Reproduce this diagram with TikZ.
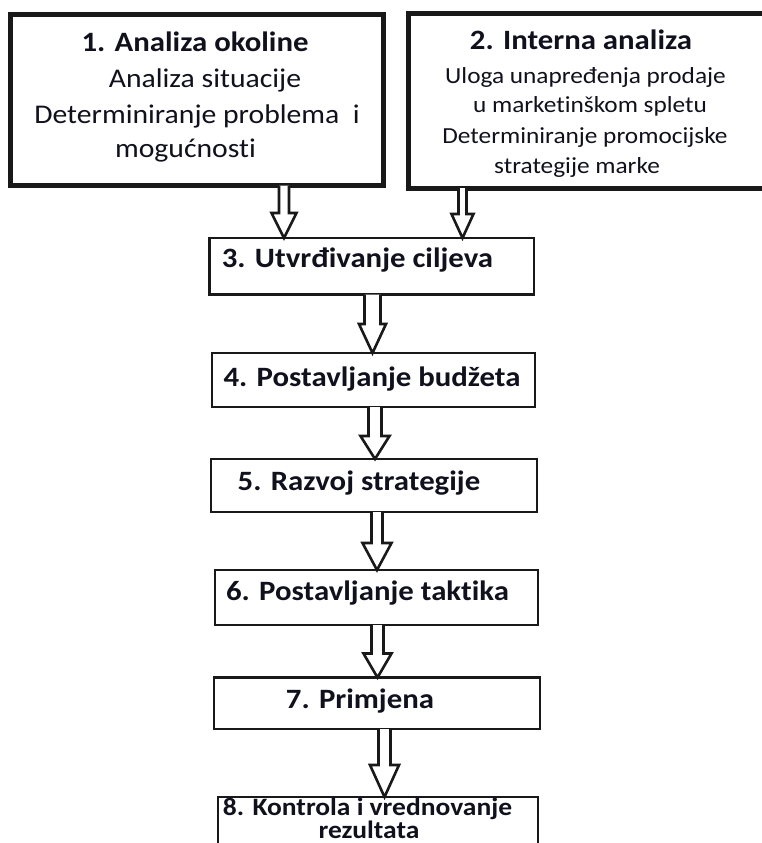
\documentclass[tikz,border=0pt]{standalone}
\usepackage{fontspec}
\setmainfont{Carlito}[FakeStretch=1.1, Ligatures=NoCommon]
\usetikzlibrary{calc}
\definecolor{ink}{RGB}{17,17,30}
\definecolor{edge}{RGB}{25,25,25}
\tikzset{
  bigbox/.style={draw=edge, line width=5pt, fill=white, outer sep=0pt, inner sep=0pt},
  stepbox/.style={draw=edge, line width=2.8pt, fill=white, outer sep=0pt, inner sep=0pt},
  txt/.style={anchor=base, inner sep=0pt, text=ink},
  headA/.style={txt, font=\bfseries\fontsize{28}{32}\selectfont},
  bodyA/.style={txt, font=\fontsize{27}{32}\selectfont},
  bodyB/.style={txt, font=\fontsize{23}{28}\selectfont},
  stepA/.style={txt, font=\bfseries\fontsize{28}{32}\selectfont},
  stepB/.style={txt, font=\bfseries\fontsize{25}{30}\selectfont},
  blockarr/.style={draw=edge, line width=2.6pt, fill=white, line join=miter}
}
% #1 source node, #2 target node, #3 centre x, #4 head length, #5 shaft half width, #6 head half width
\newcommand\blockarrow[6]{%
  \draw[blockarr] ($(#3,0 |- #1.south)+(-#5,0)$) -- ($(#3,0 |- #2.north)+(-#5,-#4)$)
    -- ($(#3,0 |- #2.north)+(-#6,-#4)$) -- (#3,0 |- #2.north)
    -- ($(#3,0 |- #2.north)+(#6,-#4)$) -- ($(#3,0 |- #2.north)+(#5,-#4)$)
    -- ($(#3,0 |- #1.south)+(#5,0)$);}
\begin{document}
\begin{tikzpicture}[x=1pt,y=-1pt]
\useasboundingbox (0,0) rectangle (762,843);
\clip (0,0) rectangle (762,843);
\fill[white] (0,0) rectangle (762,843);

% boxes
\node[bigbox, minimum width=373pt, minimum height=171pt] (b1) at (197,100) {};
\node[bigbox, minimum width=372pt, minimum height=174pt] (b2) at (594.5,101) {};
\node[stepbox, minimum width=324.5pt, minimum height=56.5pt] (b3) at (371.75,266.25) {};
\node[stepbox, minimum width=323pt, minimum height=54pt] (b4) at (373.5,380) {};
\node[stepbox, minimum width=326pt, minimum height=53pt] (b5) at (374,485.5) {};
\node[stepbox, minimum width=323pt, minimum height=55pt] (b6) at (376.5,597.5) {};
\node[stepbox, minimum width=326pt, minimum height=51.5pt] (b7) at (377,703.25) {};
\node[stepbox, minimum width=320pt, minimum height=83pt] (b8) at (378,838.5) {};

% arrows
\blockarrow{b1}{b3}{284}{25}{5}{12.5}
\blockarrow{b2}{b3}{462.5}{24}{4}{11}
\blockarrow{b3}{b4}{372.5}{29}{8}{13.5}
\blockarrow{b4}{b5}{375}{23}{6.5}{14.5}
\blockarrow{b5}{b6}{377}{27}{5.5}{14.5}
\blockarrow{b6}{b7}{377.5}{24}{6}{14}
\blockarrow{b7}{b8}{384.5}{32}{6}{14.5}

% texts box 1
\node[headA] (t1a) at (195,52) {1. Analiza okoline};
\node[bodyA] (t1b) at (205,88) {Analiza situacije};
\node[bodyA] (t1c) at (197,123) {Determiniranje problema\ \ i};
\node[bodyA] (t1d) at (185.5,157) {mogućnosti};
% texts box 2
\node[headA] (t2a) at (581,49) {2. Interna analiza};
\node[bodyB] (t2b) at (585.5,83) {Uloga unapređenja prodaje};
\node[bodyB] (t2c) at (590,112) {u marketinškom spletu};
\node[bodyB] (t2d) at (585,143) {Determiniranje promocijske};
\node[bodyB] (t2e) at (577,173) {strategije marke};
% step texts
\node[stepA] (t3) at (357.5,267) {3. Utvrđivanje ciljeva};
\node[stepA] (t4) at (372,386) {4. Postavljanje budžeta};
\node[stepA] (t5) at (359,490) {5. Razvoj strategije};
\node[stepA] (t6) at (367.5,600) {6. Postavljanje taktika};
\node[stepA] (t7) at (360,708) {7. Primjena};
\node[stepB] (t8a) at (367.5,815) {8. Kontrola i vrednovanje};
\node[stepB] (t8b) at (369,838) {rezultata};
\end{tikzpicture}
\end{document}
